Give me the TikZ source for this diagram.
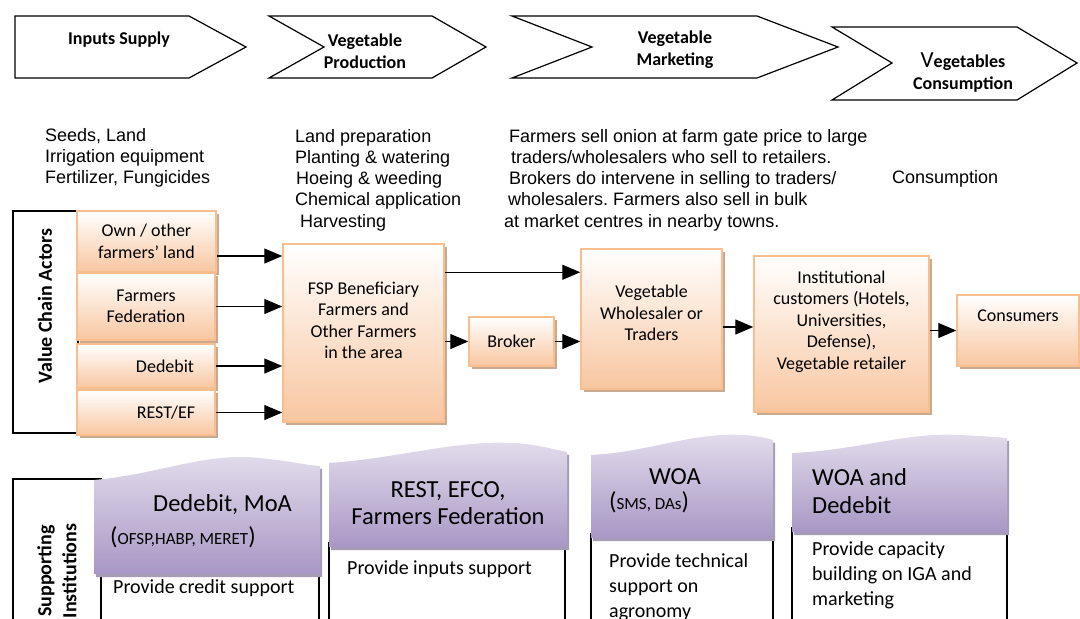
\documentclass[tikz,border=0pt]{standalone}
\usepackage{fontspec}
\setmainfont{Carlito}
\newfontfamily\arialfont{Liberation Sans}
\usetikzlibrary{arrows.meta,shadows}
\frenchspacing

\definecolor{orangeline}{HTML}{F8BE8E}
\definecolor{orangefill}{HTML}{F8C6A0}
\definecolor{orangeshade}{HTML}{C9AA90}
\definecolor{purplelight}{HTML}{E3DDEC}
\definecolor{purpledark}{HTML}{A897C5}
\definecolor{purpleshade}{HTML}{A69CB6}

\tikzset{
  stage/.style={draw=black, line width=1.2pt, fill=white},
  stagetext/.style={font=\bfseries\fontsize{18}{22}\selectfont, align=center},
  desc/.style={font=\arialfont\fontsize{18}{21.3}\selectfont, align=left, anchor=west, inner sep=0pt},
  actor/.style={draw=orangeline, line width=1.5pt, top color=white, bottom color=orangefill,
    font=\fontsize{18}{21.5}\selectfont, align=center, inner sep=2pt,
    drop shadow={shadow xshift=3pt, shadow yshift=-3pt, fill=orangeshade, opacity=1}},
  flow/.style={line width=1.3pt, -{Triangle[length=18pt,width=15pt]}},
  frame/.style={draw=black, line width=1.3pt, fill=white},
  supporter/.style={top color=purplelight, bottom color=purpledark,
    drop shadow={shadow xshift=2pt, shadow yshift=-3pt, fill=purpleshade, opacity=1}},
  supphead/.style={font=\fontsize{24.5}{27.5}\selectfont, inner sep=0pt, anchor=west, align=left},
  suppbody/.style={font=\fontsize{20}{25}\selectfont, inner sep=0pt, anchor=west, align=left},
  sidetext/.style={font=\bfseries\fontsize{20}{25}\selectfont, rotate=90, align=center}
}

\begin{document}
\begin{tikzpicture}[x=1pt,y=-1pt]
  \useasboundingbox (0,0) rectangle (1080,619);
  % stages of the chain
  \draw[stage] (15,16) -- (189,16) -- (246,47) -- (189,78) -- (15,78) -- cycle;
  \node[stagetext] (supply) at (119,40) {Inputs Supply};
  \draw[stage] (269,16) -- (432,16) -- (486,47) -- (432,78) -- (269,78) -- (324,47) -- cycle;
  \node[stagetext] (produce) at (365,51) {Vegetable\\Production};
  \draw[stage] (512,16) -- (757,16) -- (838,47) -- (757,78) -- (512,78) -- (592,47) -- cycle;
  \node[stagetext] (market) at (675,50) {Vegetable\\Marketing};
  \draw[stage] (832,27) -- (1017,27) -- (1077,63) -- (1017,100) -- (832,100) -- (892,63) -- cycle;
  \node[stagetext] (consume) at (963,73) {{\mdseries\fontsize{23}{22}\selectfont V}egetables\\Consumption};
  %
  % activities
  \node[desc] (supplydesc) at (45,158) {Seeds, Land\\Irrigation equipment\\Fertilizer, Fungicides};
  \node[desc] (producedesc) at (295,180) {Land preparation\\Planting \& watering\\\hspace*{1pt}Hoeing \& weeding\\Chemical application\\\hspace*{5pt}Harvesting};
  \node[desc] (marketdesc) at (504,180) {\hspace*{5pt}Farmers sell onion at farm gate price to large\\\hspace*{7pt}traders/wholesalers who sell to retailers.\\\hspace*{5pt}Brokers do intervene in selling to traders/\\\hspace*{4pt}wholesalers. Farmers also sell in bulk\\at market centres in nearby towns.};
  \node[desc] (consumedesc) at (892,179) {Consumption};
  %
  % value chain actors
  \draw[frame] (13,211) rectangle (78,433);
  \node[sidetext] (actorslabel) at (45,306) {Value Chain Actors};
  \node[actor, minimum width=139pt, minimum height=61pt] (own) at (146.5,241.5) {Own / other\\farmers’ land};
  \node[actor, minimum width=138pt, minimum height=67pt] (federation) at (146,306.5) {Farmers\\Federation};
  \node[actor, minimum width=138pt, minimum height=44pt] (dedebit) at (146,366) {\hspace*{38pt}Dedebit};
  \node[actor, minimum width=138pt, minimum height=45pt] (restef) at (146,412.5) {\hspace*{40pt}REST/EF};
  \node[actor, minimum width=161pt, minimum height=178pt, text depth=25pt] (farmers) at (363.5,333) {FSP Beneficiary\\Farmers and\\Other Farmers\\in the area};
  \node[actor, minimum width=85pt, minimum height=49pt] (broker) at (511.5,341.5) {Broker};
  \node[actor, minimum width=141pt, minimum height=140pt, text depth=12pt] (wholesaler) at (651.5,319) {Vegetable\\Wholesaler or\\Traders};
  \node[actor, minimum width=175pt, minimum height=156pt, text depth=28pt] (retail) at (841.5,334) {Institutional\\customers (Hotels,\\Universities,\\Defense),\\Vegetable retailer};
  \node[actor, minimum width=122pt, minimum height=71pt, text depth=30pt] (consumers) at (1018,330.5) {Consumers};
  %
  \draw[flow] ([yshift=-14.5pt]own.east) -- ([yshift=-14.5pt]own.east -| farmers.west);
  \draw[flow] (federation.east) -- (federation.east -| farmers.west);
  \draw[flow] (dedebit.east) -- (dedebit.east -| farmers.west);
  \draw[flow] (restef.east) -- (restef.east -| farmers.west);
  \draw[flow] ([yshift=-24pt]wholesaler.north west -| farmers.east) -- ([yshift=-24pt]wholesaler.north west);
  \draw[flow] (farmers.east |- broker.west) -- (broker.west);
  \draw[flow] (broker.east) -- (broker.east -| wholesaler.west);
  \draw[flow] ([yshift=-8pt]wholesaler.east) -- ([yshift=-8pt]wholesaler.east -| retail.west);
  \draw[flow] (retail.east |- consumers.west) -- (consumers.west);
  %
  % supporting institutions
  \draw[frame] (13,479) rectangle (101,640);
  \node[sidetext] (supportlabel) at (57,571) {Supporting\\Institutions};
  \draw[frame] (101,570) rectangle (319,640);
  \draw[frame] (329,543) rectangle (565,640);
  \draw[frame] (591,534) rectangle (773,640);
  \draw[frame] (792,528) rectangle (1007,640);
  \path[supporter] (94,480) .. controls (160,474) and (205,452) .. (260,458) .. controls (290,461) and (305,465) .. (320,466) -- (320,574) -- (94,574) -- cycle;
  \path[supporter] (329,463) .. controls (400,458) and (455,440) .. (513,443) .. controls (535,444) and (552,449) .. (567,452) -- (567,547) -- (329,547) -- cycle;
  \path[supporter] (591,455) .. controls (650,452) and (690,432) .. (745,435) .. controls (758,436) and (766,438) .. (773,440) -- (773,538) -- (591,538) -- cycle;
  \path[supporter] (792,453) .. controls (860,450) and (905,432) .. (960,435) .. controls (980,436) and (995,437) .. (1007,438) -- (1007,532) -- (792,532) -- cycle;
  %
  \node[supphead] (dedebithead) at (153,505) {Dedebit, MoA};
  \node[supphead] (dedebitsub) at (110,537) {({\fontsize{17}{20}\selectfont OFSP,HABP, MERET})};
  \node[suppbody] (dedebitbody) at (113,588) {Provide credit support};
  \node[supphead, anchor=center, align=center] (resthead) at (448,503) {REST, EFCO,\\Farmers Federation};
  \node[suppbody] (restbody) at (347,569) {Provide inputs support};
  \node[supphead, anchor=center] (woahead) at (675,477) {WOA};
  \node[supphead] (woasub) at (609,502) {({\fontsize{17}{20}\selectfont SMS, DAs})};
  \node[suppbody] (woabody) at (609,587) {Provide technical\\support on\\agronomy};
  \node[supphead] (bothhead) at (812,491) {WOA and\\Dedebit};
  \node[suppbody] (bothbody) at (812,575) {Provide capacity\\building on IGA and\\marketing};
\end{tikzpicture}
\end{document}
